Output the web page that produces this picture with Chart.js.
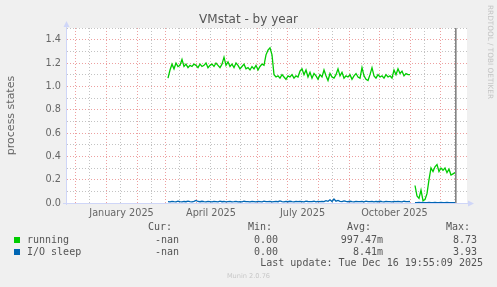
<!DOCTYPE html>
<html>
<head>
<meta charset="utf-8">
<script src="https://cdn.jsdelivr.net/npm/chart.js@4.4.0/dist/chart.umd.min.js"></script>
<style>
  body { margin: 0; background: #f0f0f0; font-family: "DejaVu Sans", sans-serif; }
  #wrap { position: relative; width: 497px; height: 287px; overflow: hidden; }
  canvas { position: absolute; left: 0; top: 0; }
  .t { position: absolute; white-space: pre; line-height: 12px; }
  .mono { font-family: "DejaVu Sans Mono", monospace; font-size: 10px; color: #555; }
  .sq { position: absolute; width: 6px; height: 6px; }
</style>
</head>
<body>
<div id="wrap">
  <canvas id="chart" width="497" height="287"></canvas>
  <div class="t" style="left:0;width:497px;text-align:center;top:12px;line-height:14px;font-size:12px;color:#555">VMstat - by year</div>
  <div class="t" style="left:486px;top:5px;writing-mode:vertical-rl;font-size:7.3px;line-height:9px;color:#c4c4c4">RRDTOOL / TOBI OETIKER</div>

  <div class="t mono" style="top:221px;right:325px">Cur:</div>
  <div class="t mono" style="top:221px;right:225px">Min:</div>
  <div class="t mono" style="top:221px;right:126px">Avg:</div>
  <div class="t mono" style="top:221px;right:27px">Max:</div>

  <div class="sq" style="left:14px;top:237px;background:#00cc00"></div>
  <div class="t mono" style="top:234px;left:27px">running</div>
  <div class="t mono" style="top:234px;right:318px">-nan</div>
  <div class="t mono" style="top:234px;right:219px">0.00</div>
  <div class="t mono" style="top:234px;right:114px">997.47m</div>
  <div class="t mono" style="top:234px;right:20px">8.73</div>

  <div class="sq" style="left:14px;top:249px;background:#0066b3"></div>
  <div class="t mono" style="top:246px;left:27px">I/O sleep</div>
  <div class="t mono" style="top:246px;right:318px">-nan</div>
  <div class="t mono" style="top:246px;right:219px">0.00</div>
  <div class="t mono" style="top:246px;right:114px">8.41m</div>
  <div class="t mono" style="top:246px;right:20px">3.93</div>

  <div class="t mono" style="top:257px;right:14px">Last update: Tue Dec 16 19:55:09 2025</div>
  <div class="t" style="left:0;width:497px;text-align:center;top:270px;font-size:6.6px;color:#c8c8c8">Munin 2.0.76</div>
</div>
<script>
// days counted from 1 Jan 2025
const monthStarts = [-31, 0, 31, 59, 90, 120, 151, 181, 212, 243, 273, 304, 334, 365];
const labelMonthIdx = [1, 4, 7, 10];
const monthLabels = ["January 2025", "April 2025", "July 2025", "October 2025"];
const yTicks = [0, 0.1, 0.2, 0.3, 0.4, 0.5, 0.6, 0.7, 0.8, 0.9, 1.0, 1.1, 1.2, 1.3, 1.4, 1.5];

const seg1Start = 62, seg2Start = 309, sampleStep = 2;
const lastUpdateDay = 349.83;

const running1 = [
  1.07,1.14,1.19,1.15,1.20,1.17,1.18,1.23,1.17,1.19,
  1.16,1.18,1.17,1.19,1.18,1.16,1.19,1.17,1.18,1.20,
  1.16,1.18,1.19,1.17,1.20,1.18,1.16,1.19,1.25,1.18,
  1.21,1.17,1.19,1.16,1.20,1.18,1.15,1.17,1.19,1.15,
  1.16,1.14,1.17,1.15,1.18,1.14,1.17,1.19,1.18,1.27,
  1.31,1.33,1.27,1.10,1.08,1.09,1.07,1.10,1.08,1.06,
  1.09,1.08,1.10,1.07,1.09,1.08,1.13,1.15,1.10,1.14,
  1.08,1.12,1.07,1.11,1.09,1.06,1.10,1.08,1.14,1.09,
  1.05,1.11,1.08,1.07,1.10,1.15,1.09,1.12,1.07,1.09,
  1.08,1.10,1.06,1.09,1.11,1.08,1.07,1.16,1.09,1.06,
  1.05,1.10,1.16,1.09,1.07,1.10,1.08,1.09,1.07,1.10,
  1.08,1.09,1.07,1.14,1.10,1.15,1.11,1.13,1.09,1.11,
  1.10,1.10
];
const running2 = [0.15,0.06,0.04,0.11,0.02,0.03,0.08,0.20,0.30,0.27,0.31,0.33,0.27,0.30,0.28,0.30,0.26,0.29,0.24,0.25,0.26];

const ioSleep1 = [
  0.012,0.010,0.014,0.011,0.009,0.015,0.012,0.010,0.013,0.011,
  0.016,0.012,0.010,0.014,0.022,0.013,0.011,0.015,0.012,0.010,
  0.013,0.011,0.009,0.014,0.012,0.010,0.016,0.011,0.013,0.010,
  0.012,0.014,0.010,0.011,0.013,0.009,0.012,0.010,0.015,0.011,
  0.012,0.010,0.013,0.011,0.009,0.014,0.012,0.010,0.016,0.012,
  0.011,0.013,0.010,0.012,0.014,0.011,0.018,0.012,0.010,0.013,
  0.011,0.015,0.012,0.010,0.013,0.011,0.014,0.012,0.010,0.016,
  0.013,0.011,0.012,0.015,0.010,0.013,0.011,0.014,0.012,0.020,
  0.015,0.028,0.013,0.034,0.016,0.022,0.014,0.012,0.018,0.013,
  0.011,0.015,0.012,0.010,0.014,0.012,0.011,0.013,0.010,0.016,
  0.012,0.011,0.014,0.010,0.013,0.011,0.015,0.012,0.010,0.013,
  0.011,0.012,0.010,0.014,0.011,0.013,0.012,0.010,0.015,0.012,
  0.011,0.013
];
const ioSleep2 = [0.004,0.003,0.005,0.004,0.006,0.003,0.004,0.005,0.003,0.004,0.006,0.004,0.003,0.005,0.004,0.003,0.005,0.004,0.003,0.004,0.004];

const xMin = -39, xMax = 361, yMax = 1.5;
const gridRed = "rgba(230,120,120,0.7)";
const gridGray = "rgba(170,170,170,0.7)";
const axisColor = "#cfd6f8";

function toPoints(start, vals) {
  return vals.map((v, i) => ({ x: start + sampleStep * i, y: v }));
}
function joinSegments(a, b) {
  return [...toPoints(seg1Start, a), { x: seg2Start - 1, y: null }, ...toPoints(seg2Start, b)];
}

const majorDays = monthStarts.filter(d => d >= xMin && d <= xMax);
const minorDays = monthStarts.map(d => d + 14).filter(d => d >= xMin && d <= xMax);
const gridDays = [...majorDays, ...minorDays].sort((a, b) => a - b);
const labelDays = labelMonthIdx.map(i => (monthStarts[i] + monthStarts[i + 1]) / 2);

const framePlugin = {
  id: "frame",
  beforeDraw(chart) {
    const { ctx, chartArea: a } = chart;
    ctx.save();
    ctx.fillStyle = "#ffffff";
    ctx.fillRect(a.left, a.top, a.right - a.left, a.bottom - a.top);
    ctx.restore();
  },
  afterDraw(chart) {
    const { ctx, chartArea: a } = chart;
    ctx.save();
    ctx.strokeStyle = axisColor;
    ctx.fillStyle = axisColor;
    ctx.lineWidth = 1;
    ctx.beginPath();
    ctx.moveTo(a.left - 0.5, a.bottom + 2);
    ctx.lineTo(a.left - 0.5, a.top - 3);
    ctx.moveTo(a.left - 4, a.bottom + 0.5);
    ctx.lineTo(a.right + 1, a.bottom + 0.5);
    ctx.stroke();
    ctx.beginPath();
    ctx.moveTo(a.left - 3.5, a.top - 1);
    ctx.lineTo(a.left + 2.5, a.top - 1);
    ctx.lineTo(a.left - 0.5, a.top - 7);
    ctx.fill();
    ctx.beginPath();
    ctx.moveTo(a.right + 1, a.bottom - 2.5);
    ctx.lineTo(a.right + 1, a.bottom + 3.5);
    ctx.lineTo(a.right + 7, a.bottom + 0.5);
    ctx.fill();
    ctx.restore();
  }
};

new Chart(document.getElementById("chart").getContext("2d"), {
  type: "line",
  data: {
    datasets: [
      { label: "running", data: joinSegments(running1, running2), borderColor: "#00cc00", borderWidth: 1.3, pointRadius: 0, spanGaps: false, order: 1 },
      { label: "I/O sleep", data: joinSegments(ioSleep1, ioSleep2), borderColor: "#0066b3", borderWidth: 1.3, pointRadius: 0, spanGaps: false, order: 2 },
      { label: "now", data: [{ x: lastUpdateDay, y: 0 }, { x: lastUpdateDay, y: yMax }], borderColor: "#7a7a7a", borderWidth: 1.5, pointRadius: 0, order: 3 }
    ]
  },
  options: {
    responsive: false,
    animation: false,
    layout: { padding: { top: 28, right: 30, bottom: 64, left: 0 } },
    plugins: { legend: { display: false }, tooltip: { enabled: false } },
    scales: {
      x: {
        type: "linear", min: xMin, max: xMax, position: "bottom",
        afterBuildTicks: s => { s.ticks = gridDays.map(v => ({ value: v })); },
        afterFit: s => { s.height = 0; },
        ticks: { display: false },
        grid: { color: c => majorDays.includes(c.tick.value) ? gridRed : gridGray, drawTicks: false, lineWidth: 1 },
        border: { display: false, dash: [1, 2] }
      },
      x2: {
        type: "linear", min: xMin, max: xMax, position: "bottom",
        afterBuildTicks: s => { s.ticks = labelDays.map(v => ({ value: v })); },
        afterFit: s => { s.height = 20; },
        ticks: {
          autoSkip: false, maxRotation: 0, padding: -3, color: "#666",
          font: { family: "DejaVu Sans", size: 9.7 },
          callback: (v, i) => monthLabels[i]
        },
        grid: { display: false },
        border: { display: false }
      },
      y: {
        min: 0, max: yMax,
        afterBuildTicks: s => { s.ticks = yTicks.map(v => ({ value: v })); },
        afterFit: s => { s.width = 67; },
        ticks: {
          autoSkip: false, padding: 6, color: "#666",
          font: { family: "DejaVu Sans", size: 9.7 },
          callback: v => Math.round(v * 10) % 2 === 0 ? v.toFixed(1) : ""
        },
        grid: { color: c => Math.round(c.tick.value * 10) % 2 === 0 ? gridRed : gridGray, drawTicks: false, lineWidth: 1 },
        border: { display: false, dash: [1, 2] },
        title: { display: true, text: "process states", color: "#666", font: { family: "DejaVu Sans", size: 11 }, padding: { top: 5, bottom: 0 } }
      }
    }
  },
  plugins: [framePlugin]
});
</script>
</body>
</html>
